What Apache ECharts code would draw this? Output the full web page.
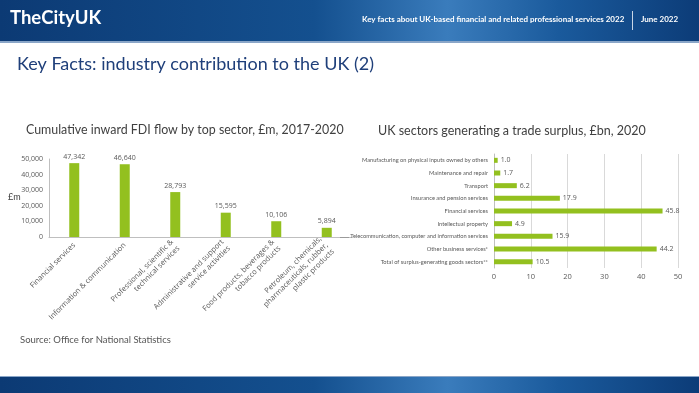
<!DOCTYPE html>
<html>
<head>
<meta charset="utf-8">
<script src="https://cdn.jsdelivr.net/npm/echarts@6/dist/echarts.min.js"></script>
<style>
html,body{margin:0;padding:0;background:#fff;}
#c{width:699px;height:393px;}
</style>
</head>
<body>
<div id="c"></div>
<script>
// Left chart: Cumulative inward FDI flow by top sector, £m, 2017-2020
var fdiCategories = [
  'Financial services',
  'Information & communication',
  'Professional, scientific &\ntechnical services',
  'Administrative and support\nservice activities',
  'Food products, beverages &\ntobacco products',
  'Petroleum, chemicals,\npharmaceuticals, rubber,\nplastic products'
];
var fdiValues = [47342, 46640, 28793, 15595, 10106, 5894];
var fdiTicks = [0, 10000, 20000, 30000, 40000, 50000];

// Right chart: UK sectors generating a trade surplus, £bn, 2020
var tradeCategories = [
  'Manufacturing on physical inputs owned by others',
  'Maintenance and repair',
  'Transport',
  'Insurance and pension services',
  'Financial services',
  'Intellectual property',
  'Telecommunication, computer and information services',
  'Other business services*',
  'Total of surplus-generating goods sectors**'
];
var tradeValues = [1.0, 1.7, 6.2, 17.9, 45.8, 4.9, 15.9, 44.2, 10.5];
var tradeTicks = [0, 10, 20, 30, 40, 50];

var green = '#93c01f';
var labelColor = '#595959';
var font = 'Open Sans';

function fmtComma(v){ return String(v).replace(/\B(?=(\d{3})+(?!\d))/g, ','); }

var headerGrad = function(){
  return new echarts.graphic.LinearGradient(0, 0, 1, 0, [
    {offset: 0, color: '#0c3a74'},
    {offset: 0.45, color: '#14508f'},
    {offset: 0.64, color: '#3a7cbc'},
    {offset: 0.8, color: '#1a5a9c'},
    {offset: 1, color: '#0c3c78'}
  ]);
};

var chart = echarts.init(document.getElementById('c'), null, {renderer:'canvas'});
chart.setOption({
  animation: false,
  backgroundColor: '#ffffff',
  textStyle: {fontFamily: font},
  grid: [
    {left: 49, top: 159, width: 303, height: 78, containLabel: false},
    {left: 494, top: 154, width: 184, height: 114, containLabel: false}
  ],
  xAxis: [
    {
      gridIndex: 0, type: 'category', data: fdiCategories,
      axisLine: {show: true, lineStyle: {color: '#bfbfbf', width: 1}},
      axisTick: {show: false},
      axisLabel: {interval: 0, rotate: 45, fontSize: 7.5, color: labelColor, fontFamily: font, margin: 7, lineHeight: 9, align: 'right'}
    },
    {
      gridIndex: 1, type: 'value', min: tradeTicks[0], max: tradeTicks[tradeTicks.length-1], interval: 10,
      axisLine: {show: false}, axisTick: {show: false},
      splitLine: {show: true, lineStyle: {color: '#d9d9d9', width: 1}},
      axisLabel: {fontSize: 7.5, color: labelColor, fontFamily: font, margin: 5}
    }
  ],
  yAxis: [
    {
      gridIndex: 0, type: 'value', min: fdiTicks[0], max: fdiTicks[fdiTicks.length-1], interval: 10000,
      axisLine: {show: true, lineStyle: {color: '#bfbfbf', width: 1}},
      axisTick: {show: false},
      splitLine: {show: false},
      axisLabel: {fontSize: 7, color: labelColor, fontFamily: font, margin: 6, formatter: fmtComma}
    },
    {
      gridIndex: 1, type: 'category', data: tradeCategories, inverse: true,
      axisLine: {show: true, lineStyle: {color: '#bfbfbf', width: 1}},
      axisTick: {show: false},
      axisLabel: {fontSize: 5.7, color: labelColor, fontFamily: 'Lato', margin: 6, interval: 0}
    }
  ],
  series: [
    {
      type: 'bar', xAxisIndex: 0, yAxisIndex: 0, data: fdiValues, barWidth: 10,
      itemStyle: {color: green},
      label: {show: true, position: 'top', fontSize: 7, color: labelColor, fontFamily: font, distance: 3, formatter: function(p){return fmtComma(p.value);}}
    },
    {
      type: 'bar', xAxisIndex: 1, yAxisIndex: 1, data: tradeValues, barWidth: 5,
      itemStyle: {color: green},
      label: {show: true, position: 'right', fontSize: 7, color: labelColor, fontFamily: font, distance: 3, formatter: function(p){return p.value.toFixed(1);}}
    }
  ],
  graphic: [
    // header band
    {type: 'rect', left: 0, top: 0, z: 0, shape: {x: 0, y: 0, width: 699, height: 42}, style: {fill: headerGrad()}},
    {type: 'rect', left: 0, top: 41, z: 1, shape: {x: 0, y: 0, width: 699, height: 2}, style: {fill: '#8aa6c8'}},
    {type: 'text', left: 10, top: 9, z: 2, style: {text: 'TheCityUK', fill: '#ffffff', font: 'bold 18.5px Lato'}},
    {type: 'text', left: 362, top: 15, z: 2, style: {text: 'Key facts about UK-based financial and related professional services 2022', fill: '#ffffff', font: 'bold 8px Lato'}},
    {type: 'rect', left: 632, top: 11, z: 2, shape: {x: 0, y: 0, width: 1, height: 19}, style: {fill: '#c9d6e6'}},
    {type: 'text', left: 641, top: 15, z: 2, style: {text: 'June 2022', fill: '#ffffff', font: 'bold 8px Lato'}},
    // title
    {type: 'text', left: 17, top: 55, z: 2, style: {text: 'Key Facts: industry contribution to the UK (2)', fill: '#1f3f7a', font: '18px Lato'}},
    // subtitles
    {type: 'text', left: 26, top: 124, z: 2, style: {text: 'Cumulative inward FDI flow by top sector, £m, 2017-2020', fill: '#404040', font: '12.4px Lato'}},
    {type: 'text', left: 378, top: 124, z: 2, style: {text: 'UK sectors generating a trade surplus, £bn, 2020', fill: '#404040', font: '12.5px Lato'}},
    // y-axis unit
    {type: 'text', left: 8, top: 193, z: 2, style: {text: '£m', fill: '#404040', font: '9px Lato'}},
    // small stray line at left of right chart
    {type: 'line', z: 2, shape: {x1: 340, y1: 237.5, x2: 349, y2: 237.5}, style: {stroke: '#9a9a9a', lineWidth: 1}},
    // source
    {type: 'text', left: 20, top: 335, z: 2, style: {text: 'Source: Office for National Statistics', fill: '#555555', font: '9.5px Lato'}},
    // footer band
    {type: 'rect', left: 0, top: 377, z: 0, shape: {x: 0, y: 0, width: 699, height: 16}, style: {fill: headerGrad()}},
    {type: 'rect', left: 0, top: 376, z: 1, shape: {x: 0, y: 0, width: 699, height: 1}, style: {fill: '#8aa6c8'}}
  ]
});
</script>
</body>
</html>
